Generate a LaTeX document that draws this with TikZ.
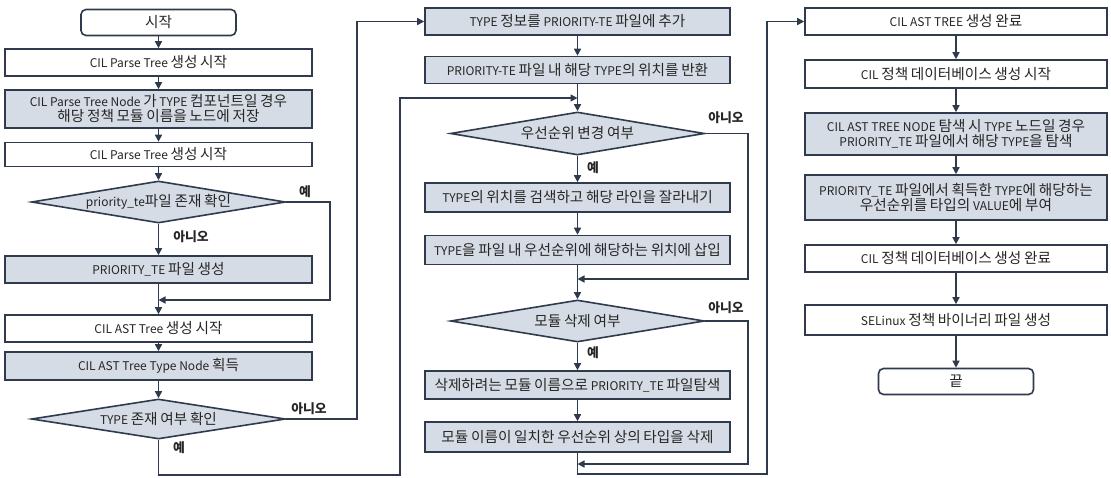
\documentclass[tikz,border=0pt]{standalone}
\usepackage{fontspec}
\setmainfont{Noto Sans CJK KR}
\usetikzlibrary{shapes.geometric,arrows.meta}
\definecolor{edge}{HTML}{2F3B4C}
\definecolor{shade}{HTML}{D6DCE5}
\definecolor{ink}{HTML}{262626}
% Hangul syllables are set a little larger than the Latin text around them
\makeatletter
\newcommand\hgsize{\fontsize{\strip@pt\dimexpr\f@size pt*122/100\relax}{\f@baselineskip}\selectfont}
\makeatother
\XeTeXinterchartokenstate=1
\newXeTeXintercharclass\hgclass
\count255="AC00
\loop
  \XeTeXcharclass\count255=\hgclass
  \ifnum\count255<"D7A3 \advance\count255 by 1
\repeat
\XeTeXinterchartoks 0 \hgclass = {\begingroup\hgsize}
\XeTeXinterchartoks 4095 \hgclass = {\begingroup\hgsize}
\XeTeXinterchartoks \hgclass 0 = {\endgroup}
\XeTeXinterchartoks \hgclass 4095 = {\endgroup}
\begin{document}
\begin{tikzpicture}[x=1pt,y=-1pt,
  base/.style={draw=edge,line width=1.6pt,text=ink,align=center,inner sep=1pt,
    font=\fontsize{12}{15}\selectfont},
  wbox/.style={base,fill=white},
  gbox/.style={base,fill=shade},
  term/.style={wbox,rounded corners=5pt,minimum width=155pt,minimum height=26pt},
  dbox/.style={base,fill=shade,diamond,shape aspect=6,inner sep=0pt,
    minimum width=254pt,minimum height=42pt},
  c1/.style={minimum width=307pt},
  c2/.style={minimum width=305pt},
  c3/.style={minimum width=302pt},
  arr/.style={draw=edge,line width=1.5pt,-{Triangle[length=7pt,width=7pt]}},
  lbl/.style={text=ink,inner sep=0pt,font=\fontsize{10.5}{14}\selectfont\bfseries}
]
\useasboundingbox (0,0) rectangle (1111,477);

% ---- left column: parse tree and AST tree ----
\node[term] (start) at (158.5,22.5) {시작};
\node[wbox,c1,minimum height=27pt] (p1) at (158.5,62.5) {CIL Parse Tree 생성 시작};
\node[gbox,c1,minimum height=38pt] (p2) at (158.5,109) {CIL Parse Tree Node 가 TYPE 컴포넌트일 경우\\해당 정책 모듈 이름을 노드에 저장};
\node[wbox,c1,minimum height=24pt] (p3) at (158.5,154.5) {CIL Parse Tree 생성 시작};
\node[dbox] (d1) at (158.5,202) {priority\_te파일 존재 확인};
\node[gbox,c1,minimum height=27pt] (p4) at (158.5,269.5) {PRIORITY\_TE 파일 생성};
\node[wbox,c1,minimum height=27pt] (p5) at (158.5,328.5) {CIL AST Tree 생성 시작};
\node[gbox,c1,minimum height=28pt] (p6) at (158.5,366) {CIL AST Tree Type Node 획득};
\node[dbox,minimum height=40pt] (d2) at (158.5,419) {TYPE 존재 여부 확인};

% ---- middle column: priority file maintenance ----
\node[gbox,c2,minimum height=27pt] (q1) at (577.5,21.5) {TYPE 정보를 PRIORITY-TE 파일에 추가};
\node[gbox,c2,minimum height=27pt] (q2) at (577.5,70) {PRIORITY-TE 파일 내 해당 TYPE의 위치를 반환};
\node[dbox,minimum height=43pt] (d3) at (577.5,133.5) {우선순위 변경 여부};
\node[gbox,c2,minimum height=29pt] (q3) at (577.5,197.5) {TYPE의 위치를 검색하고 해당 라인을 잘라내기};
\node[gbox,c2,minimum height=29pt] (q4) at (577.5,250) {TYPE을 파일 내 우선순위에 해당하는 위치에 삽입};
\node[dbox] (d4) at (577.5,321) {모듈 삭제 여부};
\node[gbox,c2,minimum height=28pt] (q5) at (577.5,385) {삭제하려는 모듈 이름으로 PRIORITY\_TE 파일탐색};
\node[gbox,c2,minimum height=30pt] (q6) at (577.5,437) {모듈 이름이 일치한 우선순위 상의 타입을 삭제};

% ---- right column: policy database ----
\node[wbox,c3,minimum height=27pt] (r1) at (956,21.5) {CIL AST TREE 생성 완료};
\node[wbox,c3,minimum height=28pt] (r2) at (956,74) {CIL 정책 데이터베이스 생성 시작};
\node[gbox,c3,minimum height=42pt] (r3) at (956,134) {CIL AST TREE NODE 탐색 시 TYPE 노드일 경우\\PRIORITY\_TE 파일에서 해당 TYPE을 탐색};
\node[gbox,c3,minimum height=45pt] (r4) at (956,197.5) {PRIORITY\_TE 파일에서 획득한 TYPE에 해당하는\\우선순위를 타입의 VALUE에 부여};
\node[wbox,c3,minimum height=27pt] (r5) at (956,258.5) {CIL 정책 데이터베이스 생성 완료};
\node[wbox,c3,minimum height=30pt] (r6) at (956,320) {SELinux 정책 바이너리 파일 생성};
\node[term] (stop) at (956,381.5) {끝};

% ---- branch labels ----
\node[lbl] (y1) at (305,192) {예};
\node[lbl] (n1) at (191,237) {아니오};
\node[lbl] (n2) at (309,409) {아니오};
\node[lbl] (y2) at (179,448) {예};
\node[lbl] (n3) at (726,118) {아니오};
\node[lbl] (y3) at (593,168) {예};
\node[lbl] (n4) at (726,308) {아니오};
\node[lbl] (y4) at (593,353) {예};

% ---- junction points ----
\coordinate (j1) at (158.5,300);
\coordinate (j2) at (577.5,98);
\coordinate (j3) at (577.5,279);
\coordinate (j4) at (577.5,464);

% ---- left column flow ----
\draw[arr] (start) -- (p1);
\draw[arr] (p1) -- (p2);
\draw[arr] (p2) -- (p3);
\draw[arr] (p3) -- (d1);
\draw[arr] (d1) -- (p4);
\draw[arr] (p4) -- (p5);
\draw[arr] (d1.east) -- (330,202) -- (330,300) -- (j1);
\draw[arr] (p5) -- (p6);
\draw[arr] (p6) -- (d2);
\draw[arr] (d2.east) -- (357,419) -- (357,21.5) -- (q1.west);
\draw[arr] (d2.south) -- (158.5,475) -- (400,475) -- (400,98) -- (j2);

% ---- middle column flow ----
\draw[arr] (q1) -- (q2);
\draw[arr] (q2) -- (d3);
\draw[arr] (d3) -- (q3);
\draw[arr] (q3) -- (q4);
\draw[arr] (q4) -- (d4);
\draw[arr] (d3.east) -- (748,133.5) -- (748,279) -- (j3);
\draw[arr] (d4) -- (q5);
\draw[arr] (q5) -- (q6);
\draw[arr] (d4.east) -- (748,321) -- (748,464) -- (j4);
\draw[arr] (q6.south) -- (577.5,474) -- (767,474) -- (767,21.5) -- (r1.west);

% ---- right column flow ----
\draw[arr] (r1) -- (r2);
\draw[arr] (r2) -- (r3);
\draw[arr] (r3) -- (r4);
\draw[arr] (r4) -- (r5);
\draw[arr] (r5) -- (r6);
\draw[arr] (r6) -- (stop);
\end{tikzpicture}
\end{document}
